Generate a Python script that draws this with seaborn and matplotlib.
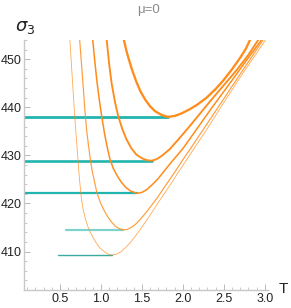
import matplotlib
matplotlib.use("Agg")
import matplotlib.pyplot as plt
import seaborn as sns
import pandas as pd
from matplotlib.ticker import MultipleLocator

sns.set_style("white")
plt.rcParams['font.family'] = ['Liberation Sans', 'DejaVu Sans']

# Curves sigma_3(T) (lowest -> highest)
T1 = [0.62, 0.635, 0.65, 0.665, 0.68, 0.70, 0.72, 0.74, 0.76, 0.78, 0.81, 0.84, 0.87, 0.91, 0.95, 0.99, 1.04, 1.08, 1.13,
      1.18, 1.24, 1.30, 1.36, 1.42, 1.48, 1.55, 1.62, 1.70, 1.80, 1.90, 2.00, 2.12, 2.30, 2.50, 2.75, 3.01]
S1 = [454, 450, 446, 442, 438, 433.5, 428.8, 424.6, 421.2, 418.9, 416.8, 415.2, 414.0, 412.7, 411.6, 410.7, 410.0, 409.5, 409.3,
      409.4, 409.9, 410.8, 411.9, 413.2, 414.6, 416.3, 418.1, 420.2, 422.7, 425.3, 427.9, 431.0, 435.6, 441.0, 447.5, 454]
T2 = [0.74, 0.76, 0.78, 0.795, 0.81, 0.83, 0.85, 0.87, 0.89, 0.92, 0.95, 0.99, 1.03, 1.08, 1.13, 1.18, 1.22, 1.27,
      1.32, 1.38, 1.43, 1.48, 1.54, 1.60, 1.68, 1.76, 1.84, 1.92, 2.00, 2.085, 2.25, 2.45, 2.70, 2.98]
S2 = [454, 449.5, 445, 441.5, 438, 434.5, 431.8, 429.2, 427.0, 424.6, 422.3, 420.3, 418.8, 417.3, 416.1, 415.2, 414.8, 414.5,
      414.6, 415.1, 415.8, 416.7, 417.9, 419.2, 421.0, 423.0, 425.0, 427.0, 429.1, 431.2, 435.4, 440.5, 446.9, 454]
T3 = [0.90, 0.925, 0.95, 0.98, 1.01, 1.045, 1.08, 1.11, 1.15, 1.20, 1.25, 1.30, 1.36, 1.44,
      1.50, 1.56, 1.62, 1.70, 1.78, 1.86, 1.93, 2.00, 2.15, 2.35, 2.60, 2.80, 2.96]
S3 = [454, 449.5, 445.5, 441.5, 438, 434.4, 431.4, 429.2, 427.3, 425.7, 424.4, 423.4, 422.6, 422.1,
      422.3, 422.9, 423.8, 425.2, 426.9, 428.6, 430.0, 431.4, 435.0, 439.8, 445.6, 450.3, 454]
T4 = [1.07, 1.10, 1.13, 1.17, 1.21, 1.26, 1.31, 1.37, 1.43, 1.50, 1.56, 1.62,
      1.68, 1.75, 1.84, 1.95, 2.08, 2.20, 2.35, 2.50, 2.65, 2.80, 2.92]
S4 = [454, 449, 445, 441.2, 438.2, 435.5, 433.4, 431.5, 430.2, 429.4, 429.0, 428.9,
      429.2, 430.0, 431.3, 433.4, 436.0, 438.5, 441.6, 444.6, 447.6, 450.9, 454]
T5 = [1.28, 1.31, 1.34, 1.38, 1.43, 1.48, 1.54, 1.60, 1.66, 1.74, 1.82,
      1.90, 1.98, 2.085, 2.18, 2.29, 2.40, 2.49, 2.60, 2.70, 2.77, 2.82]
S5 = [454, 451.8, 450, 447.8, 445.4, 443.4, 441.6, 440.2, 439.2, 438.4, 438.0,
      438.2, 438.7, 439.6, 440.6, 442.0, 443.8, 445.5, 447.9, 450.3, 452.2, 454]

# Horizontal (teal) lines: level, start T, end T
LEVELS = [409.3, 414.5, 422.1, 428.9, 438.0]
T_START = [0.48, 0.57, 0.0, 0.0, 0.0]
T_END = [1.13, 1.27, 1.44, 1.62, 1.82]

X_TICKS = [0.5, 1.0, 1.5, 2.0, 2.5, 3.0]
Y_TICKS = [410, 420, 430, 440, 450]

curves = [(T1, S1), (T2, S2), (T3, S3), (T4, S4), (T5, S5)]
widths = [0.6, 0.85, 1.1, 1.35, 1.65]
orange_alpha = [0.75, 0.85, 1.0, 1.0, 1.0]
teal_w = [1.0, 1.6, 1.6, 1.9, 2.0]
teal_c = ["#3aaa9e", "#7fd3cd", "#22b5b0", "#22b5b0", "#22b5b0"]

fig = plt.figure(figsize=(2.91, 3.08), dpi=100)
ax = fig.add_axes([24/291, 1-290/308, (268-24)/291, (290-40)/308])

for i in range(len(LEVELS)):
    dfh = pd.DataFrame({"T": [T_START[i], T_END[i]], "sigma": [LEVELS[i], LEVELS[i]]})
    sns.lineplot(data=dfh, x="T", y="sigma", ax=ax, color=teal_c[i], lw=teal_w[i], zorder=2)

for i, (T, S) in enumerate(curves):
    df = pd.DataFrame({"T": T, "sigma": S})
    sns.lineplot(data=df, x="T", y="sigma", sort=False, ax=ax, color="#ff8c1a",
                 lw=widths[i], alpha=orange_alpha[i], zorder=3)

ax.set_xlim(0.06, 3.04)
ax.set_ylim(402, 454)
ax.set_xticks(X_TICKS)
ax.set_yticks(Y_TICKS)
ax.set_xticklabels([f"{v:.1f}" for v in X_TICKS])
ax.set_yticklabels([str(v) for v in Y_TICKS])
ax.xaxis.set_minor_locator(MultipleLocator(0.1))
ax.yaxis.set_minor_locator(MultipleLocator(2))
ax.tick_params(which="major", direction="in", length=4, width=0.6, color="#b0b0b0",
               labelsize=9, labelcolor="#222222", pad=2)
ax.tick_params(which="minor", direction="in", length=2, width=0.5, color="#b0b0b0")
ax.tick_params(axis="both", which="both", left=True, bottom=True)
for s in ["top", "right"]:
    ax.spines[s].set_visible(False)
for s in ["left", "bottom"]:
    ax.spines[s].set_color("#c8c8c8")
    ax.spines[s].set_linewidth(1.0)
ax.set_xlabel("")
ax.set_ylabel("")
ax.patch.set_alpha(0)

fig.text(148/291, 1-10/308, "μ=0", ha="center", va="center", fontsize=9.5, color="#8a8a8a")
fig.text(15/291, 1-27/308, r"$\sigma_3$", ha="left", va="center", fontsize=13, color="#222222")
fig.text(279/291, 1-289/308, "T", ha="left", va="center", fontsize=11, color="#222222")

fig.savefig("out.png", dpi=100)
